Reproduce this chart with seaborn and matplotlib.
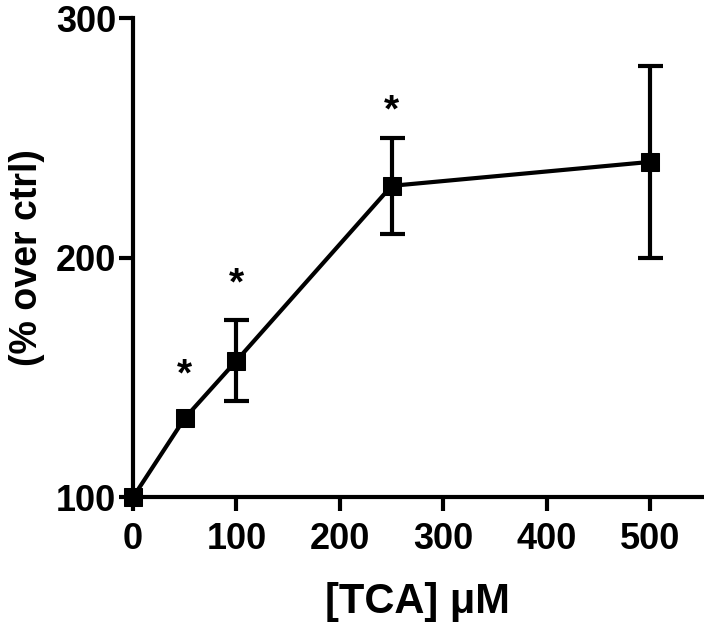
import numpy as np
import pandas as pd
import matplotlib
matplotlib.use("Agg")
import matplotlib.pyplot as plt
import seaborn as sns

# Data
conc = [0, 50, 100, 250, 500]          # [TCA] in µM
response = [100, 133, 157, 230, 240]   # % over ctrl
sem = [0, 0, 17, 20, 40]               # error bar half-lengths
star_x = [50, 100, 250]
star_y = [151, 189, 261]
xticks = [0, 100, 200, 300, 400, 500]
yticks = [100, 200, 300]

sns.set_style("ticks")
plt.rcParams['font.family'] = ['Liberation Sans', 'DejaVu Sans']
plt.rcParams['font.weight'] = 'bold'

df = pd.DataFrame({"conc": conc, "resp": response, "sem": sem})

fig = plt.figure(figsize=(7.04, 6.27), dpi=100)
ax = fig.add_axes([0.189, 0.207, 0.808, 0.764])

sns.lineplot(data=df, x="conc", y="resp", ax=ax, color="black", lw=3,
             marker="s", markersize=13, markeredgecolor="black",
             markerfacecolor="black", clip_on=False, zorder=3)

m = df["sem"] > 0
ax.errorbar(df.loc[m, "conc"], df.loc[m, "resp"], yerr=df.loc[m, "sem"],
            fmt="none", ecolor="black", elinewidth=3, capsize=9,
            capthick=3, zorder=2, clip_on=False)

for sx, sy in zip(star_x, star_y):
    ax.text(sx, sy, "*", ha="center", va="center", fontsize=28,
            fontweight="bold", color="black")

ax.set_xlim(0, 550)
ax.set_ylim(100, 300)
ax.set_xticks(xticks)
ax.set_yticks(yticks)
ax.tick_params(axis="both", length=10, width=3, labelsize=26,
               color="black", labelcolor="black")
ax.tick_params(axis="x", pad=8)
ax.tick_params(axis="y", pad=2)
for lab in ax.get_xticklabels() + ax.get_yticklabels():
    lab.set_fontweight("bold")
for s in ["left", "bottom"]:
    ax.spines[s].set_linewidth(3)
    ax.spines[s].set_color("black")
sns.despine(ax=ax)

ax.set_xlabel("[TCA] μM", fontsize=30, fontweight="bold", labelpad=18,
              color="black")
ax.set_ylabel("(% over ctrl)", fontsize=27, fontweight="bold", labelpad=8,
              color="black")

fig.savefig("out.png", dpi=100)
